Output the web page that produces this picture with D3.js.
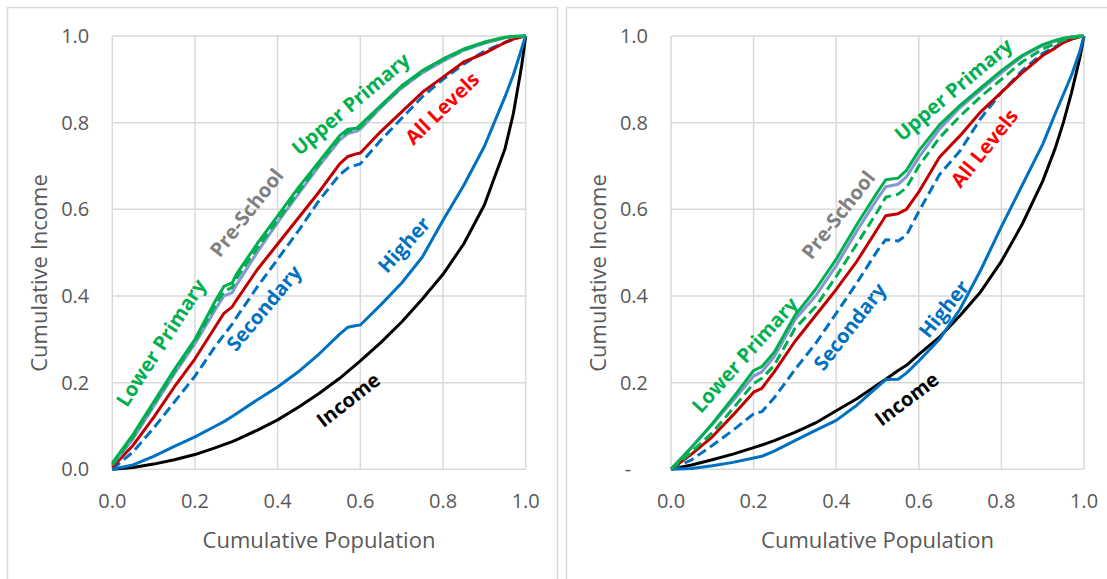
<!DOCTYPE html>
<html>
<head>
<meta charset="utf-8">
<script src="https://cdn.jsdelivr.net/npm/d3@7"></script>
<style>
  body { margin: 0; background: #fff; }
  text { font-family: "Open Sans", "Noto Sans", sans-serif; }
</style>
</head>
<body>
<div id="chart"></div>
<script>
// x grid (cumulative population) for each panel
var leftX  = [0, .05, .1, .15, .2, .25, .27, .29, .3, .35, .4, .45, .5, .55, .57, .59, .6, .65, .7, .75, .8, .85, .9, .95, .97, .99, 1];
var rightX = [0, .05, .1, .15, .2, .22, .25, .3, .35, .4, .45, .5, .52, .55, .57, .6, .65, .7, .75, .8, .85, .9, .93, .95, .97, .99, 1];

// left panel, cumulative income
var leftIncome    = [0, .004, .012, .022, .034, .05, .057, .064, .068, .09, .114, .143, .175, .21, .226, .242, .25, .293, .34, .393, .45, .52, .61, .74, .82, .93, 1];
var leftHigher    = [0, .01, .03, .053, .075, .1, .11, .122, .128, .16, .19, .225, .266, .312, .328, .332, .333, .38, .43, .49, .575, .655, .745, .86, .91, .97, 1];
var leftSecondary = [0, .04, .095, .155, .215, .285, .31, .335, .35, .42, .485, .55, .62, .68, .695, .702, .705, .76, .81, .86, .9, .935, .965, .985, .992, .998, 1];
var leftAll       = [.005, .055, .12, .19, .255, .33, .36, .375, .39, .46, .52, .58, .64, .705, .722, .728, .73, .78, .825, .87, .905, .94, .96, .985, .993, .998, 1];
var leftPre       = [.01, .07, .145, .22, .29, .37, .40, .408, .425, .5, .57, .635, .70, .76, .775, .78, .785, .835, .88, .915, .942, .967, .983, .996, .998, 1, 1];
var leftUpper     = [.01, .075, .15, .225, .295, .38, .41, .42, .44, .51, .575, .64, .705, .765, .78, .783, .79, .838, .882, .918, .945, .968, .985, .997, .999, 1, 1];
var leftLower     = [.015, .08, .155, .23, .30, .39, .422, .43, .45, .52, .585, .65, .71, .77, .785, .787, .795, .84, .885, .92, .947, .97, .986, .997, .999, 1, 1];

// right panel, cumulative income
var rightIncome    = [0, .01, .022, .035, .05, .056, .066, .085, .107, .135, .163, .195, .208, .228, .24, .265, .305, .355, .41, .48, .565, .665, .74, .8, .87, .95, 1];
var rightHigher    = [0, .002, .008, .016, .026, .03, .042, .066, .09, .113, .148, .19, .207, .208, .222, .25, .3, .37, .46, .56, .655, .75, .82, .865, .91, .965, 1];
var rightSecondary = [0, .022, .055, .09, .128, .133, .165, .23, .29, .36, .43, .505, .53, .527, .54, .595, .68, .735, .81, .87, .92, .96, .975, .985, .993, .998, 1];
var rightAll       = [0, .035, .075, .125, .178, .187, .225, .295, .355, .415, .48, .555, .585, .59, .6, .64, .72, .77, .825, .87, .915, .955, .972, .985, .993, .998, 1];
var rightPre       = [0, .052, .104, .158, .215, .225, .26, .345, .40, .47, .55, .625, .652, .658, .675, .72, .785, .835, .875, .915, .952, .978, .988, .994, .998, 1, 1];
var rightUpper     = [0, .04, .085, .14, .198, .21, .24, .325, .375, .445, .52, .595, .628, .635, .65, .70, .765, .815, .86, .9, .94, .97, .982, .99, .996, .999, 1];
var rightLower     = [0, .05, .105, .165, .228, .237, .27, .355, .415, .485, .565, .64, .668, .672, .69, .735, .795, .84, .88, .92, .955, .98, .99, .995, .998, 1, 1];

var ticks = [0, 0.2, 0.4, 0.6, 0.8, 1.0];
var leftYTickLabels  = ["0.0", "0.2", "0.4", "0.6", "0.8", "1.0"];
var rightYTickLabels = ["-", "0.2", "0.4", "0.6", "0.8", "1.0"];
var xTickLabels      = ["0.0", "0.2", "0.4", "0.6", "0.8", "1.0"];

// series names and label text
var seriesNames = ["Income", "Higher", "Secondary", "All Levels", "Pre-School", "Upper Primary", "Lower Primary"];
// label positions (data units) and rotation
var leftLabelX  = [0.571, 0.706, 0.367, 0.798, 0.325, 0.577, 0.118];
var leftLabelY  = [0.160, 0.518, 0.372, 0.833, 0.592, 0.843, 0.292];
var leftLabelA  = [-38, -48, -50, -44, -52, -40, -57];
var rightLabelX = [0.571, 0.661, 0.433, 0.759, 0.405, 0.684, 0.179];
var rightLabelY = [0.162, 0.370, 0.329, 0.741, 0.587, 0.876, 0.264];
var rightLabelA = [-37, -51, -52, -51, -52, -40, -48];

var styles = {
    "Income":        {stroke: "#000000", dash: null, label: "#000000"},
    "Higher":        {stroke: "#0070C0", dash: null, label: "#0070C0"},
    "Secondary":     {stroke: "#0070C0", dash: "10,5", label: "#0070C0"},
    "All Levels":    {stroke: "#C00000", dash: null, label: "#FF0000"},
    "Pre-School":    {stroke: "#8497D4", dash: null, label: "#808080"},
    "Upper Primary": {stroke: "#00B050", dash: "10,5", label: "#00B050"},
    "Lower Primary": {stroke: "#00B050", dash: null, label: "#00B050"}
};

var W = 1107, H = 579;
var svg = d3.select("#chart").append("svg")
    .attr("width", W)
    .attr("height", H);

function drawPanel(cfg) {
    // panel frame
    svg.append("rect")
        .attr("x", cfg.frame[0]).attr("y", 7.5)
        .attr("width", cfg.frame[1]).attr("height", 600)
        .attr("fill", "none")
        .attr("stroke", "#d9d9d9")
        .attr("stroke-width", 1.5);

    var x = d3.scaleLinear().domain([0, 1]).range([cfg.x0, cfg.x1]);
    var y = d3.scaleLinear().domain([0, 1]).range([469.3, 36]);

    var g = svg.append("g");

    // grid
    g.selectAll(".vgrid").data(ticks).enter().append("line")
        .attr("x1", function(d) { return x(d); })
        .attr("x2", function(d) { return x(d); })
        .attr("y1", y(0)).attr("y2", y(1))
        .attr("stroke", "#d9d9d9").attr("stroke-width", 1.5);
    g.selectAll(".hgrid").data(ticks).enter().append("line")
        .attr("y1", function(d) { return y(d); })
        .attr("y2", function(d) { return y(d); })
        .attr("x1", x(0)).attr("x2", x(1))
        .attr("stroke", "#d9d9d9").attr("stroke-width", 1.5);

    // tick labels
    g.selectAll(".ytick").data(ticks).enter().append("text")
        .attr("x", function(d, i) { return cfg.yLabels[i] === "-" ? x(0) - 43 : x(0) - 23; })
        .attr("y", function(d) { return y(d); })
        .attr("dy", "0.35em")
        .attr("text-anchor", function(d, i) { return cfg.yLabels[i] === "-" ? "middle" : "end"; })
        .attr("font-size", 20)
        .attr("fill", "#595959")
        .text(function(d, i) { return cfg.yLabels[i]; });

    g.selectAll(".xtick").data(ticks).enter().append("text")
        .attr("x", function(d) { return x(d); })
        .attr("y", 508)
        .attr("text-anchor", "middle")
        .attr("font-size", 20)
        .attr("fill", "#595959")
        .text(function(d, i) { return xTickLabels[i]; });

    // axis titles
    g.append("text")
        .attr("x", (x(0) + x(1)) / 2)
        .attr("y", 548)
        .attr("text-anchor", "middle")
        .attr("font-size", 22)
        .attr("fill", "#595959")
        .text("Cumulative Population");

    g.append("text")
        .attr("transform", "translate(" + (cfg.frame[0] + 32) + ",273) rotate(-90)")
        .attr("dy", "0.35em")
        .attr("text-anchor", "middle")
        .attr("font-size", 22)
        .attr("fill", "#595959")
        .text("Cumulative Income");

    // lines
    var line = d3.line()
        .x(function(d) { return x(d[0]); })
        .y(function(d) { return y(d[1]); });

    cfg.series.forEach(function(vals, i) {
        var st = styles[seriesNames[i]];
        var pts = cfg.xs.map(function(v, j) { return [v, vals[j]]; });
        g.append("path")
            .datum(pts)
            .attr("d", line)
            .attr("fill", "none")
            .attr("stroke", st.stroke)
            .attr("stroke-width", 3)
            .attr("stroke-linejoin", "round")
            .attr("stroke-dasharray", st.dash);
    });

    // series labels
    seriesNames.forEach(function(name, i) {
        g.append("text")
            .attr("transform", "translate(" + x(cfg.lx[i]) + "," + y(cfg.ly[i]) + ") rotate(" + cfg.la[i] + ")")
            .attr("text-anchor", "middle")
            .attr("dy", "0.35em")
            .attr("font-size", 20)
            .attr("font-weight", 700)
            .attr("fill", styles[name].label)
            .text(name);
    });
}

drawPanel({
    frame: [7.5, 550],
    x0: 112.3, x1: 525.7,
    xs: leftX,
    series: [leftIncome, leftHigher, leftSecondary, leftAll, leftPre, leftUpper, leftLower],
    yLabels: leftYTickLabels,
    lx: leftLabelX, ly: leftLabelY, la: leftLabelA
});

drawPanel({
    frame: [566.5, 560],
    x0: 671, x1: 1084,
    xs: rightX,
    series: [rightIncome, rightHigher, rightSecondary, rightAll, rightPre, rightUpper, rightLower],
    yLabels: rightYTickLabels,
    lx: rightLabelX, ly: rightLabelY, la: rightLabelA
});
</script>
</body>
</html>
